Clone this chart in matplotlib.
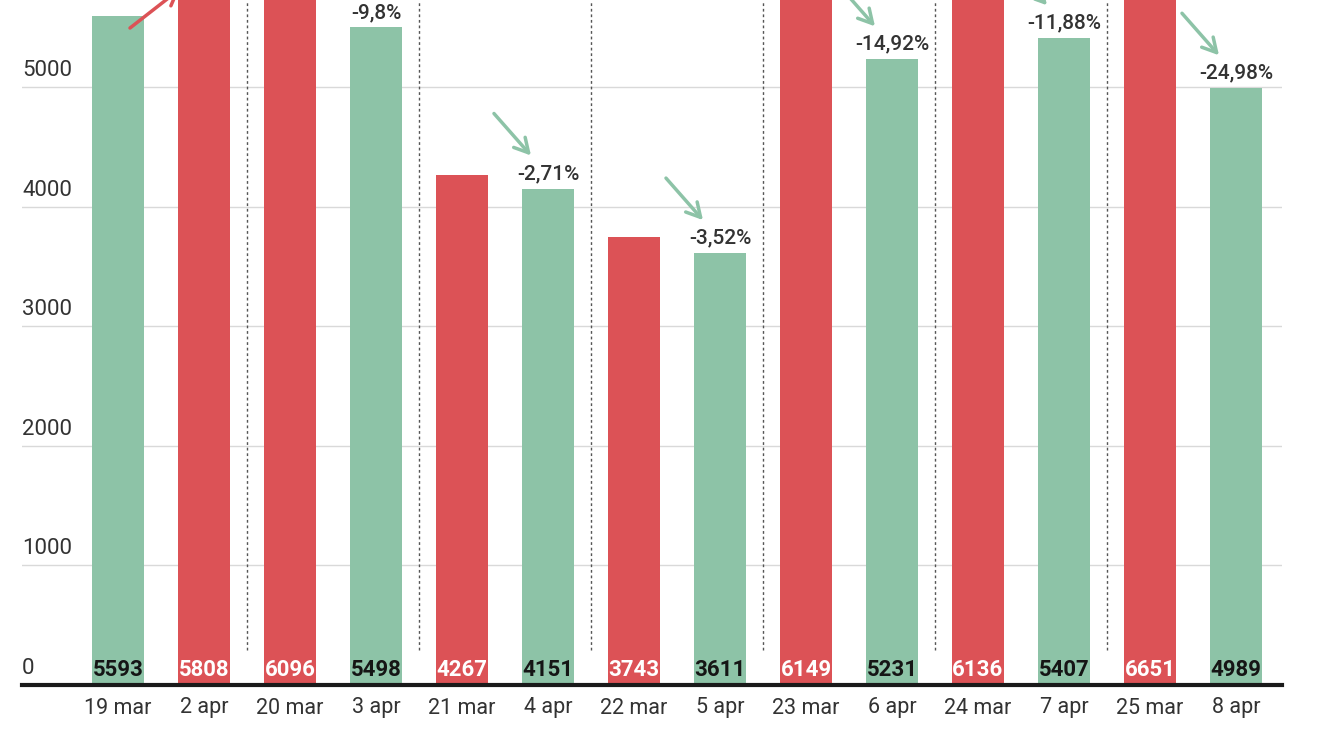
import matplotlib
matplotlib.use('Agg')
from matplotlib import pyplot as plt
from matplotlib.transforms import offset_copy, blended_transform_factory

plt.rcParams['font.family'] = ['Roboto', 'DejaVu Sans']

labels = ['19 mar', '2 apr', '20 mar', '3 apr', '21 mar', '4 apr', '22 mar',
          '5 apr', '23 mar', '6 apr', '24 mar', '7 apr', '25 mar', '8 apr']
values = [5593, 5808, 6096, 5498, 4267, 4151, 3743, 3611, 6149, 5231, 6136, 5407, 6651, 4989]
# change label on the second bar of each pair
pct_labels = ['+3,84%', '-9,8%', '-2,71%', '-3,52%', '-14,92%', '-11,88%', '-24,98%']
y_ticks = [0, 1000, 2000, 3000, 4000, 5000]

GREEN = '#8dc3a7'
RED = '#dc5256'
TEXT = '#333333'
YMAX = 5727

fig = plt.figure(figsize=(13.2, 7.43), dpi=100)
ax = fig.add_axes([22 / 1320, 58 / 743, 1260 / 1320, 685 / 743])
ax.set_xlim(-1.116, 13.535)
ax.set_ylim(0, YMAX)

for s in ax.spines.values():
    s.set_visible(False)

# grid + y labels sitting above the lines
ytr = blended_transform_factory(ax.transAxes, ax.transData)
ytr_lab = offset_copy(ytr, fig=fig, x=0, y=6, units='dots')
for t in y_ticks:
    if t > 0:
        ax.axhline(t, color='#d9d9d9', lw=1, zorder=0)
    ax.text(0, t, str(t), transform=ytr_lab, ha='left', va='bottom',
            fontsize=16, color=TEXT)
ax.set_yticks([])

colors = []
for p in range(0, len(values), 2):
    a, b = values[p], values[p + 1]
    if b > a:
        colors += [GREEN, RED]
    else:
        colors += [RED, GREEN]

xs = list(range(len(values)))
ax.bar(xs, values, width=0.6, color=colors, zorder=2)

# separators between pairs
ax.vlines([p + 1.5 for p in range(0, len(values) - 2, 2)], 290, YMAX,
          colors='#555555', linestyles=(0, (2, 2)), lw=1, zorder=1)

ax.axhline(0, color='#1a1a1a', lw=3, zorder=3, clip_on=False)

for i, v in enumerate(values):
    c = 'white' if colors[i] == RED else '#151515'
    ax.annotate(str(v), xy=(i, 0), xytext=(0, 15), textcoords='offset pixels',
                ha='center', va='center', fontsize=16, fontweight='bold',
                color=c, zorder=4)

# change labels and arrows (the label of the first pair is above the picture)
for k, p in enumerate(range(0, len(values), 2)):
    a, b = values[p], values[p + 1]
    j = p + 1
    if b < YMAX - 150:
        ax.annotate(pct_labels[k], xy=(j, b), xytext=(0, 15), textcoords='offset pixels',
                    ha='center', va='center', fontsize=15, fontweight='medium',
                    color=TEXT, annotation_clip=False)
    if b > a:
        tail_tr = offset_copy(ax.transData, fig=fig, x=12, y=-12, units='dots')
        ax.annotate('', xy=(p, a), xycoords=offset_copy(ax.transData, fig=fig, x=62, y=27, units='dots'),
                    xytext=(p, a), textcoords=tail_tr,
                    arrowprops=dict(arrowstyle='->,head_length=1.0,head_width=0.55',
                                    color=RED, lw=2.5, shrinkA=0, shrinkB=0),
                    annotation_clip=False)
    else:
        head_tr = offset_copy(ax.transData, fig=fig, x=-17, y=33, units='dots')
        ax.annotate('', xy=(j, b), xycoords=head_tr, xytext=(-37, 42),
                    textcoords='offset pixels',
                    arrowprops=dict(arrowstyle='->,head_length=1.0,head_width=0.55',
                                    color=GREEN, lw=2.5, shrinkA=0, shrinkB=0),
                    annotation_clip=False)

ax.set_xticks(xs)
ax.set_xticklabels(labels, fontsize=15.5, color=TEXT)
ax.tick_params(axis='x', length=0, pad=9)

fig.savefig('out.png', dpi=100)
